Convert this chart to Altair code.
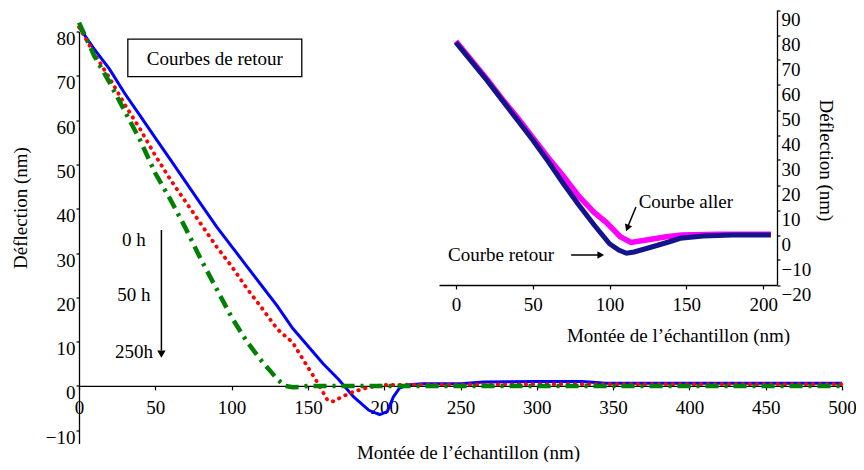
import altair as alt
import pandas as pd

X_TITLE = "Montée de l’échantillon (nm)"
Y_TITLE = "Déflection (nm)"
FONT = "Liberation Serif"
FS = 19

# ---- main chart: return curves at 0 h, 50 h, 250 h ----
blue_x = [0, 10, 20, 30, 40, 50, 60, 70, 80, 90, 100, 110, 120, 130, 140, 150, 160, 170, 180, 190,
          197, 202, 206, 210, 215, 225, 250, 265, 300, 330, 345, 380, 420, 460, 500]
blue_y = [81, 76, 71.5, 66, 61, 56, 51, 46, 41, 36, 31.5, 27, 22.5, 18, 13, 9, 5, 1.5, -2.5, -5.5,
          -6.5, -5.8, -2.5, -0.5, 0.2, 0.5, 0.5, 0.9, 1.0, 1.0, 0.6, 0.6, 0.6, 0.6, 0.6]

red_x = [0, 10, 20, 30, 40, 50, 60, 70, 80, 90, 100, 110, 120, 130, 140, 150, 155, 160, 163, 167,
         172, 180, 190, 200, 220, 250, 300, 350, 400, 450, 500]
red_y = [81, 75, 69.5, 63.5, 58, 52, 46.5, 41.5, 36.5, 31.5, 27, 22, 17.5, 12.8, 9.8, 4.2, 1.5, -1.5, -3.3, -3.5,
         -2.5, -1.3, -0.3, 0.2, 0.3, 0.3, 0.4, 0.4, 0.4, 0.4, 0.4]

green_x = [0, 10, 20, 30, 40, 50, 60, 70, 80, 90, 100, 110, 120, 125, 130, 135, 140, 145, 150,
           200, 250, 300, 350, 400, 450, 500]
green_y = [82, 74.5, 68.5, 62, 55.5, 48, 42, 35.5, 28.5, 22, 15.5, 10, 5.5, 3.5, 1.5, 0, -0.3, -0.2, 0,
           0, 0, 0, 0, 0, 0, 0]

main_x_ticks = [0, 50, 100, 150, 200, 250, 300, 350, 400, 450, 500]
main_y_ticks = [-10, 0, 10, 20, 30, 40, 50, 60, 70, 80]

# ---- inset: approach (aller) vs return (retour) ----
aller_x = [0, 10, 20, 30, 40, 50, 60, 70, 80, 90, 98, 107, 114, 124, 137, 147, 170, 205]
aller_y = [77.5, 70, 62.5, 54.5, 47, 39, 31, 23.5, 15.5, 9, 5, -0.7, -3, -2, -0.7, 0, 0.3, 0.3]

retour_x = [0, 10, 20, 30, 40, 50, 60, 70, 80, 90, 100, 106, 111, 116, 128, 139, 146, 161, 180, 205]
retour_y = [77, 69.5, 62, 54, 46, 38, 29.5, 20.5, 12, 4, -3.5, -6, -7.3, -6.8, -4.7, -2.7, -1.3, -0.4, 0, 0]

inset_x_ticks = [0, 50, 100, 150, 200]
inset_y_ticks = [-20, -10, 0, 10, 20, 30, 40, 50, 60, 70, 80, 90]

# annotations (data coordinates)
main_labels = ["0 h", "50 h", "250h"]
main_labels_x = [36, 36, 36]
main_labels_y = [33, 20.5, 7.7]
box_text = "Courbes de retour"

W, H = 763, 412

xs_main = alt.Scale(domain=[0, 500], nice=False, zero=False)
ys_main = alt.Scale(domain=[-13, 80], nice=False, zero=False)
xs_in = alt.Scale(domain=[-11, 209], range=[360, 698], nice=False, zero=False)
ys_in = alt.Scale(domain=[-20, 90], range=[253.5, -21.5], nice=False, zero=False)

main_x_axis = alt.Axis(values=main_x_ticks, orient="bottom", offset=-57.6, tickSize=4, labelPadding=9,
                       labelFlush=False, title=X_TITLE, titleX=389, titleY=67, titleAlign="center",
                       titleBaseline="middle")
main_y_axis = alt.Axis(values=main_y_ticks, orient="left", tickSize=3, labelPadding=1, labelOffset=7,
                       labelFlush=False, title=Y_TITLE, titleX=-59, titleY=176, titleAngle=-90,
                       titleAlign="center", titleBaseline="middle")
in_x_axis = alt.Axis(values=inset_x_ticks, orient="bottom", offset=-158.5, tickSize=4, labelPadding=6,
                     labelFlush=False, title=X_TITLE, titleX=599, titleY=50, titleAlign="center",
                     titleBaseline="middle")
in_y_axis = alt.Axis(values=inset_y_ticks, orient="right", offset=-65, tickSize=3, labelPadding=1,
                     labelOffset=9, labelFlush=False, title=Y_TITLE, titleX=48, titleY=128.5, titleAngle=90,
                     titleAlign="center", titleBaseline="middle")


def mx():
    return alt.X("x:Q", scale=xs_main, axis=main_x_axis)


def my():
    return alt.Y("y:Q", scale=ys_main, axis=main_y_axis)


def ix():
    return alt.X("x:Q", scale=xs_in, axis=in_x_axis)


def iy():
    return alt.Y("y:Q", scale=ys_in, axis=in_y_axis)


def df(xs, ys):
    return pd.DataFrame({"x": xs, "y": ys, "o": list(range(len(xs)))})


blue = alt.Chart(df(blue_x, blue_y)).mark_line(color="#0000FF", strokeWidth=3).encode(
    x=mx(), y=my(), order="o:Q")
red = alt.Chart(df(red_x, red_y)).mark_line(color="#FF0000", strokeWidth=3.8, strokeDash=[0.5, 6.5],
                                             strokeCap="round").encode(x=mx(), y=my(), order="o:Q")
green = alt.Chart(df(green_x, green_y)).mark_line(color="#008000", strokeWidth=4.5, strokeDash=[13, 6, 3, 6]
                                                  ).encode(x=mx(), y=my(), order="o:Q")

box = alt.Chart(pd.DataFrame({"x": [32], "x2": [146], "y": [78.3], "y2": [69.8]})).mark_rect(
    fill="white", stroke="black", strokeWidth=1.3).encode(x=mx(), x2="x2:Q", y=my(), y2="y2:Q")
box_lbl = alt.Chart(pd.DataFrame({"x": [89], "y": [73.8], "t": [box_text]})).mark_text(
    font=FONT, fontSize=FS, color="black").encode(x=mx(), y=my(), text="t:N")
hours = alt.Chart(pd.DataFrame({"x": main_labels_x, "y": main_labels_y, "t": main_labels})).mark_text(
    font=FONT, fontSize=FS, color="black").encode(x=mx(), y=my(), text="t:N")
arrow = alt.Chart(pd.DataFrame({"x": [54], "y": [35.2], "y2": [8]})).mark_rule(
    color="black", strokeWidth=1.5).encode(x=mx(), y=my(), y2="y2:Q")
arrow_head = alt.Chart(pd.DataFrame({"x": [54], "y": [7.2]})).mark_point(
    shape="triangle-down", filled=True, size=70, color="black", opacity=1).encode(x=mx(), y=my())

main = alt.layer(blue, red, green, box, box_lbl, hours, arrow, arrow_head)

aller = alt.Chart(df(aller_x, aller_y)).mark_line(color="#FF00FF", strokeWidth=5.5).encode(
    x=ix(), y=iy(), order="o:Q")
retour = alt.Chart(df(retour_x, retour_y)).mark_line(color="#14148C", strokeWidth=5).encode(
    x=ix(), y=iy(), order="o:Q")
in_txt = alt.Chart(pd.DataFrame({"x": [149.7, 29.4], "y": [13.2, -8], "t": ["Courbe aller", "Courbe retour"]})
                   ).mark_text(font=FONT, fontSize=FS, color="black").encode(x=ix(), y=iy(), text="t:N")
in_rules = alt.Chart(pd.DataFrame({"x": [117.2, 75], "y": [11.2, -8], "x2": [112, 93], "y2": [3.5, -8]})
                     ).mark_rule(color="black", strokeWidth=1.5).encode(x=ix(), y=iy(), x2="x2:Q", y2="y2:Q")
in_head1 = alt.Chart(pd.DataFrame({"x": [111.6], "y": [2.8]})).mark_point(
    shape="triangle-down", filled=True, size=60, color="black", opacity=1, angle=21).encode(x=ix(), y=iy())
in_head2 = alt.Chart(pd.DataFrame({"x": [94.3], "y": [-8]})).mark_point(
    shape="triangle-right", filled=True, size=60, color="black", opacity=1).encode(x=ix(), y=iy())

inset = alt.layer(aller, retour, in_txt, in_rules, in_head1, in_head2)

chart = alt.layer(main, inset).resolve_scale(x="independent", y="independent").properties(
    width=W, height=H,
    autosize=alt.AutoSizeParams(type="none"),
    padding={"left": 71, "top": 23.5, "right": 14, "bottom": 18.5},
).configure_view(stroke=None).configure_axis(
    grid=False, domainColor="black", tickColor="black", labelColor="black", titleColor="black",
    labelFont=FONT, titleFont=FONT, labelFontSize=FS, titleFontSize=FS, titleFontWeight="normal",
    domainWidth=1.3, tickWidth=1.2,
)

chart.save("out.html", embed_options={"renderer": "svg", "actions": False})
